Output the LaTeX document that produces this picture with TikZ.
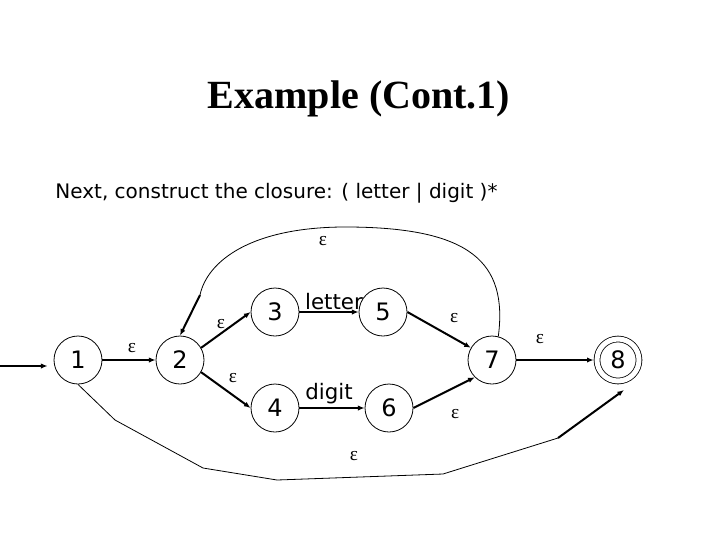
\documentclass[tikz,border=0pt]{standalone}
\usepackage{fontspec}
\setmainfont{DejaVu Sans}
\newfontfamily\timesfont{Liberation Serif}
\usetikzlibrary{arrows.meta}
\newcommand{\epsl}{{\timesfont\fontsize{14.5}{14.5}\selectfont ε}}

\begin{document}
\begin{tikzpicture}
        [x=0.75pt,y=-0.75pt,line width=0.6pt]
            \tikzstyle{state}=[circle, draw, inner sep=0pt,
        minimum size=36pt, font=\fontsize{18}{18}\selectfont]
            \tikzstyle{final}=[state, minimum size=31.5pt, double,
        double distance=3.75pt, outer sep=2.5pt]
            \tikzstyle{move}=[line width=1.5pt, -{Latex[length=5pt,width=4pt]}]
            \tikzstyle{lab}=[inner sep=0pt, font=\fontsize{16}{16}\selectfont]
        \useasboundingbox (0,0) rectangle (720,540);
        %-----text
         \node[font=\timesfont\bfseries\fontsize{30}{30}\selectfont, anchor=base] (title) at (359,108) {Example (Cont.1)};
         \node[font=\fontsize{15}{15}\selectfont, anchor=base west, inner sep=0pt] (caption) at (55,198) {Next, construct the closure: ( letter | digit )*};
        %-----states
         \node[state]  (n1) at (78,360) {1};
         \node[state]  (n2) at (180,360) {2};
         \node[state]  (n3) at (275,312) {3};
         \node[state]  (n4) at (275,408) {4};
         \node[state]  (n5) at (383,312) {5};
         \node[state]  (n6) at (389,408) {6};
         \node[state]  (n7) at (492,360) {7};
         \node[final]  (n8) at (618,360) {8};
        %-----moves
         \coordinate (start) at (0,366);
         \draw[move, shorten >=4.5pt] (start) -- (start -| n1.west);

         \foreach \from/\to/\lab/\dx/\dy in {n1.east/n2.west/\epsl/3/-12,n2.30/n3.west/\epsl/-5/-6,n2.-30/n4.west/\epsl/7/-12,n3.east/n5.west/letter/5/-10,n4.east/n6.west/digit/-3/-14,n5.east/n7.150/\epsl/15/-12,n6.east/n7.-135/\epsl/11/21,n7.east/n8.west/\epsl/-15/-21}
         \draw[move] (\from) -- node[lab, shift={(\dx,\dy)}] {\lab} (\to);

        %-----loop back and bypass
         \coordinate (top) at (350,227);
         \coordinate (back) at (200,295);
         \draw (n7.75) .. controls (508,262) and (470,228) .. (top) node[lab, shift={(-27,14)}] {\epsl}
               .. controls (250,226) and (207,262) .. (back);
         \draw[move] (back) -- (n2.north);

         \coordinate (b1) at (115,420);
         \coordinate (b2) at (203,468);
         \coordinate (b3) at (277,480);
         \coordinate (b4) at (443,474);
         \coordinate (b5) at (558,438);
         \coordinate (tip) at (624,390);
         \draw (n1.south) -- (b1) -- (b2) -- (b3) -- node[lab, shift={(-6,-21)}] {\epsl} (b4) -- (b5);
         \draw[move] (b5) -- (tip);

        \end{tikzpicture}
\end{document}
